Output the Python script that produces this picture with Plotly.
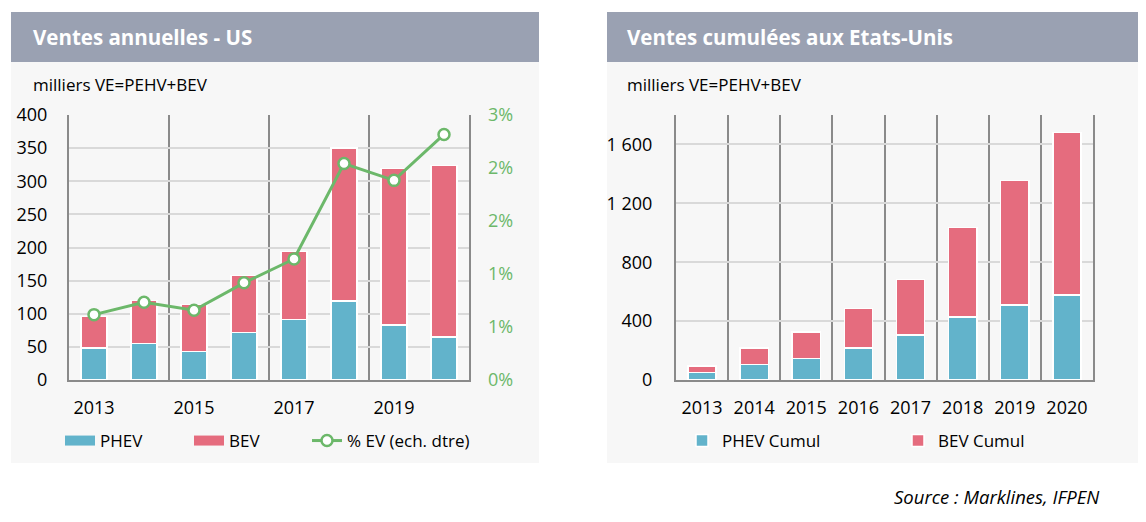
import plotly.graph_objects as go

# ---------------- data ----------------
years = [2013, 2014, 2015, 2016, 2017, 2018, 2019, 2020]
phev_annual = [48, 55, 43, 72, 91, 119, 83, 65]
bev_annual = [48, 65, 71, 86, 103, 231, 236, 259]
ev_share = [0.0074, 0.0088, 0.0079, 0.0110, 0.0137, 0.0245, 0.0226, 0.0278]

phev_cumul = [50, 104, 145, 219, 307, 429, 510, 578]
bev_cumul = [45, 115, 180, 268, 377, 607, 844, 1103]

left_xticks = [2013, 2015, 2017, 2019]
left_yticks = [0, 50, 100, 150, 200, 250, 300, 350, 400]
share_ticks = [0, 0.006, 0.012, 0.018, 0.024, 0.03]
share_ticktext = ["0%", "1%", "1%", "2%", "2%", "3%"]
right_yticks = [0, 400, 800, 1200, 1600]
right_yticktext = ["0", "400", "800", "1 200", "1 600"]

# ---------------- styles ----------------
W, H = 1146, 522
FONT = "Open Sans"
C_PHEV = "#62b3cb"
C_BEV = "#e56c7e"
C_LINE = "#6cb86a"
C_HDR = "#9aa1b2"
C_PANEL = "#f7f7f7"
C_HGRID = "#d9d9d9"
C_VGRID = "#8a8a8a"


def px(x):
    return x / W


def py(y):
    return 1 - y / H


fig = go.Figure()

# left chart bars
fig.add_trace(go.Bar(x=years, y=phev_annual, name="PHEV", marker=dict(color=C_PHEV, line=dict(color="white", width=1.5)),
                     width=0.52, xaxis="x", yaxis="y", showlegend=False))
fig.add_trace(go.Bar(x=years, y=bev_annual, name="BEV", marker=dict(color=C_BEV, line=dict(color="white", width=1.5)),
                     width=0.52, xaxis="x", yaxis="y", showlegend=False))
fig.add_trace(go.Scatter(x=years, y=ev_share, name="% EV (ech. dtre)", mode="lines+markers",
                         line=dict(color=C_LINE, width=3),
                         marker=dict(symbol="circle", size=11, color="white", line=dict(color=C_LINE, width=2.5)),
                         xaxis="x", yaxis="y2", legend="legend3"))
# left legend entries (wide swatches)
fig.add_trace(go.Scatter(x=[None], y=[None], mode="lines", name="PHEV", line=dict(color=C_PHEV, width=11),
                         xaxis="x", yaxis="y", legend="legend"))
fig.add_trace(go.Scatter(x=[None], y=[None], mode="lines", name="BEV", line=dict(color=C_BEV, width=11),
                         xaxis="x", yaxis="y", legend="legend"))

# right chart bars
fig.add_trace(go.Bar(x=years, y=phev_cumul, name="PHEV Cumul", marker=dict(color=C_PHEV, line=dict(color="white", width=1.5)),
                     width=0.54, xaxis="x3", yaxis="y3", legend="legend2"))
fig.add_trace(go.Bar(x=years, y=bev_cumul, name="BEV Cumul", marker=dict(color=C_BEV, line=dict(color="white", width=1.5)),
                     width=0.54, xaxis="x3", yaxis="y3", legend="legend2"))

shapes = [
    dict(type="rect", xref="paper", yref="paper", x0=px(11), x1=px(539), y0=py(463), y1=py(62),
         fillcolor=C_PANEL, line=dict(width=0), layer="below"),
    dict(type="rect", xref="paper", yref="paper", x0=px(607), x1=px(1138), y0=py(463), y1=py(62),
         fillcolor=C_PANEL, line=dict(width=0), layer="below"),
    dict(type="rect", xref="paper", yref="paper", x0=px(11), x1=px(539), y0=py(62), y1=py(12),
         fillcolor=C_HDR, line=dict(width=0), layer="below"),
    dict(type="rect", xref="paper", yref="paper", x0=px(607), x1=px(1138), y0=py(62), y1=py(12),
         fillcolor=C_HDR, line=dict(width=0), layer="below"),
]

annotations = [
    dict(text="<b>Ventes annuelles - US</b>", x=px(31), y=py(37), xref="paper", yref="paper",
         xanchor="left", yanchor="middle", showarrow=False, font=dict(family=FONT, size=20.5, color="white")),
    dict(text="<b>Ventes cumulées aux Etats-Unis</b>", x=px(625), y=py(37), xref="paper", yref="paper",
         xanchor="left", yanchor="middle", showarrow=False, font=dict(family=FONT, size=20.5, color="white")),
    dict(text="milliers VE=PEHV+BEV", x=px(31), y=py(84), xref="paper", yref="paper",
         xanchor="left", yanchor="middle", showarrow=False, font=dict(family=FONT, size=17, color="black")),
    dict(text="milliers VE=PEHV+BEV", x=px(625), y=py(84), xref="paper", yref="paper",
         xanchor="left", yanchor="middle", showarrow=False, font=dict(family=FONT, size=17, color="black")),
    dict(text="<i>Source : Marklines, IFPEN</i>", x=px(1102), y=py(496), xref="paper", yref="paper",
         xanchor="right", yanchor="middle", showarrow=False, font=dict(family=FONT, size=18.5, color="black")),
]

ydom = [py(380), py(115)]
tickfont = dict(family=FONT, size=18, color="black")
legfont = dict(family=FONT, size=17, color="black")

fig.update_layout(
    width=W, height=H,
    margin=dict(l=0, r=0, t=0, b=0, pad=0),
    paper_bgcolor="white",
    plot_bgcolor=C_PANEL,
    barmode="stack",
    font=dict(family=FONT, size=16, color="black"),
    shapes=shapes,
    annotations=annotations,
    xaxis=dict(domain=[px(69), px(469)], anchor="y", range=[2012.5, 2020.5], automargin=False,
               tickmode="array", tickvals=left_xticks, ticktext=[str(v) for v in left_xticks],
               showgrid=False, showline=True, linecolor=C_VGRID, linewidth=2, ticks="",
               ticklabelstandoff=10, tickfont=tickfont, zeroline=False,
               minor=dict(tickmode="linear", tick0=2012.5, dtick=2, showgrid=True,
                          gridcolor=C_VGRID, gridwidth=1.5, ticks="")),
    yaxis=dict(domain=ydom, anchor="x", range=[0, 400], tickmode="array", tickvals=left_yticks,
               automargin=False,
               showgrid=True, gridcolor=C_HGRID, gridwidth=2, showline=True, mirror=True,
               linecolor=C_VGRID, linewidth=2, zeroline=False, ticks="", ticklabelstandoff=16,
               tickfont=tickfont),
    yaxis2=dict(overlaying="y", side="right", anchor="x", range=[0, 0.03], tickmode="array",
                automargin=False,
                tickvals=share_ticks, ticktext=share_ticktext, showgrid=False, zeroline=False,
                showline=False, ticks="", ticklabelstandoff=18,
                tickfont=dict(family=FONT, size=18, color=C_LINE)),
    xaxis3=dict(domain=[px(676), px(1093)], anchor="y3", range=[2012.5, 2020.5], automargin=False,
                tickmode="array", tickvals=years, ticktext=[str(v) for v in years],
                showgrid=False, showline=True, linecolor=C_VGRID, linewidth=2, ticks="",
                ticklabelstandoff=10, tickfont=tickfont, zeroline=False,
                minor=dict(tickmode="linear", tick0=2012.5, dtick=1, showgrid=True,
                           gridcolor=C_VGRID, gridwidth=1.5, ticks="")),
    yaxis3=dict(domain=ydom, anchor="x3", range=[0, 1800], tickmode="array", tickvals=right_yticks,
                automargin=False,
                ticktext=right_yticktext, showgrid=True, gridcolor=C_HGRID, gridwidth=2,
                showline=True, mirror=True, linecolor=C_VGRID, linewidth=2, zeroline=False,
                ticks="", ticklabelstandoff=18, tickfont=tickfont),
    legend=dict(orientation="h", x=px(60), y=py(441), xanchor="left", yanchor="middle",
                entrywidth=84, entrywidthmode="pixels", bgcolor="rgba(0,0,0,0)",
                font=legfont, traceorder="normal"),
    legend3=dict(orientation="h", x=px(307), y=py(441), xanchor="left", yanchor="middle",
                 bgcolor="rgba(0,0,0,0)", font=legfont),
    legend2=dict(orientation="h", x=px(682), y=py(441), xanchor="left", yanchor="middle",
                 entrywidth=171, entrywidthmode="pixels", bgcolor="rgba(0,0,0,0)",
                 font=legfont, traceorder="normal"),
)

fig.write_html("out.html", config={"displayModeBar": False},
               post_script="document.body.style.margin='0px';")
